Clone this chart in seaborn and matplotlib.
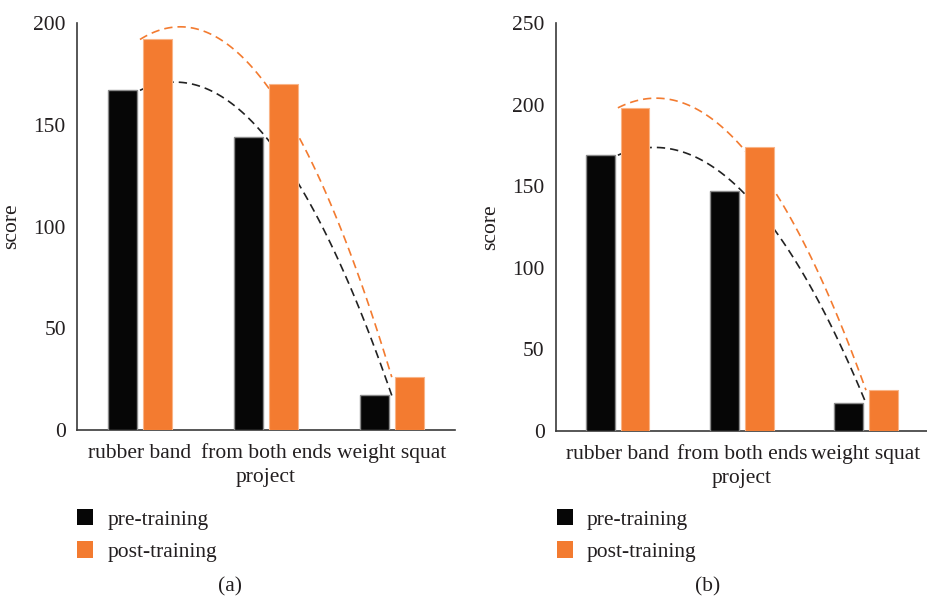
import numpy as np
import pandas as pd
import matplotlib
matplotlib.use("Agg")
import matplotlib.pyplot as plt
import seaborn as sns
from matplotlib.patches import Patch

categories = ["rubber band", "from both ends", "weight squat"]
series = ["pre-training", "post-training"]
pre_a = [167, 144, 17]
post_a = [192, 170, 26]
pre_b = [169, 147, 17]
post_b = [198, 174, 25]
yticks_a = [0, 50, 100, 150, 200]
yticks_b = [0, 50, 100, 150, 200, 250]
panel_labels = ["(a)", "(b)"]

BLACK = "#060606"
ORANGE = "#F37B30"
TEXT = "#231f20"
FS = 15.5

sns.set_theme(style="white")
plt.rcParams["font.family"] = ["Liberation Serif", "DejaVu Serif"]
plt.rcParams["text.color"] = TEXT
plt.rcParams["axes.labelcolor"] = TEXT
plt.rcParams["xtick.color"] = TEXT
plt.rcParams["ytick.color"] = TEXT

fig = plt.figure(figsize=(9.28, 6.0), dpi=100)
positions = [[0.083, 0.2833, 0.407, 0.678], [0.599, 0.2817, 0.401, 0.680]]
datasets = [(pre_a, post_a, yticks_a), (pre_b, post_b, yticks_b)]
legend_x = [0.083, 0.600]
label_x = [0.248, 0.762]

for i, ((pre, post, yt), pos) in enumerate(zip(datasets, positions)):
    ax = fig.add_axes(pos)
    df = pd.DataFrame({
        "project": categories * 2,
        "series": [series[0]] * 3 + [series[1]] * 3,
        "score": pre + post,
    })
    sns.barplot(data=df, x="project", y="score", hue="series",
                palette=[BLACK, ORANGE], width=0.56, gap=0.18, saturation=1,
                ax=ax, legend=False, zorder=3)
    for p in ax.patches:
        fc = p.get_facecolor()
        if fc[0] < 0.2:
            p.set_edgecolor("#8a8a8a")
            p.set_linewidth(1.0)
        else:
            p.set_edgecolor("#f9b487")
            p.set_linewidth(0.8)
    xs = np.arange(len(categories))
    sns.regplot(x=xs, y=np.array(pre), order=2, scatter=False, ci=None, ax=ax,
                truncate=True,
                line_kws=dict(color="#222222", lw=1.2, ls=(0, (5, 3)), zorder=2))
    sns.regplot(x=xs, y=np.array(post), order=2, scatter=False, ci=None, ax=ax,
                truncate=True,
                line_kws=dict(color=ORANGE, lw=1.2, ls=(0, (5, 3)), zorder=2))
    ax.set_xlim(-0.5, 2.5)
    ax.set_ylim(0, yt[-1])
    ax.set_yticks(yt)
    ax.set_xticks(xs)
    ax.set_xticklabels(categories)
    ax.tick_params(axis="both", length=0, labelsize=FS)
    ax.tick_params(axis="y", pad=8)
    ax.tick_params(axis="x", pad=10)
    ax.set_xlabel("project", fontsize=FS, labelpad=4)
    ax.set_ylabel("score", fontsize=FS, labelpad=9)
    for s in ["top", "right"]:
        ax.spines[s].set_visible(False)
    for s in ["left", "bottom"]:
        ax.spines[s].set_color("#3a3a3a")
        ax.spines[s].set_linewidth(1.2)
    handles = [Patch(facecolor=BLACK, edgecolor="none"),
               Patch(facecolor=ORANGE, edgecolor="none")]
    fig.legend(handles, series, loc="upper left",
               bbox_to_anchor=(legend_x[i], 0.152), frameon=False,
               fontsize=FS, handlelength=0.75, handleheight=0.8,
               handletextpad=0.65, labelspacing=0.55, borderaxespad=0,
               borderpad=0)
    fig.text(label_x[i], 0.022, panel_labels[i], fontsize=FS, ha="center", va="center")

fig.savefig("out.png", dpi=100, facecolor="white")
